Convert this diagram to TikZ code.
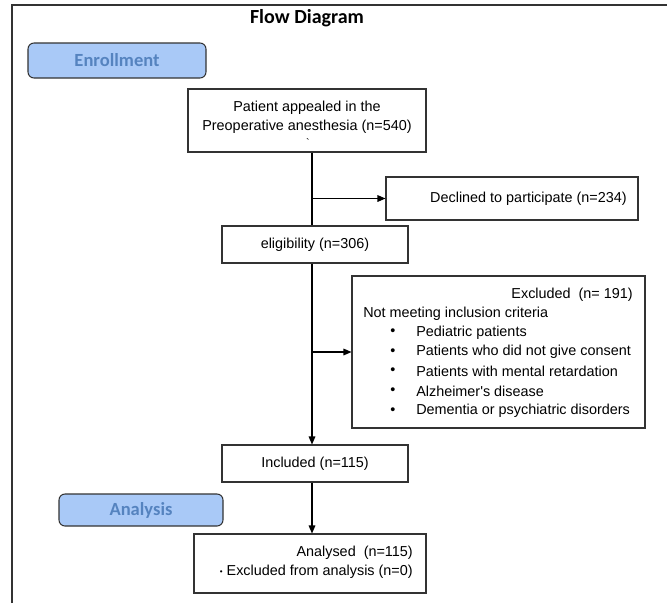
\documentclass[tikz,border=0pt]{standalone}
\usepackage{fontspec}
\setmainfont{Liberation Sans}
\newfontfamily\calibri{Carlito}
\newfontfamily\rawarial{Liberation Sans}
\usetikzlibrary{arrows.meta}
\definecolor{phasefill}{HTML}{A9C9F7}
\definecolor{phasetext}{HTML}{5583BF}
\definecolor{edgegray}{HTML}{333333}
\begin{document}
\begin{tikzpicture}[x=0.75pt,y=-0.75pt,
  box/.style={draw=edgegray, line width=0.8pt, inner sep=0pt, font=\fontsize{10.8}{13}\selectfont},
  phase/.style={draw=edgegray, line width=0.8pt, rounded corners=4.5pt, fill=phasefill,
    font=\calibri\bfseries\fontsize{13.9}{16}\selectfont, text=phasetext, inner sep=0pt},
  txt/.style={font=\fontsize{10.8}{13}\selectfont, inner sep=0pt},
  arr/.style={draw=black, line width=0.8pt, -{Triangle[length=6pt,width=5pt]}},
  ln/.style={draw=black, line width=0.8pt}]
\useasboundingbox (0,0) rectangle (667,603);
% frame
\draw[line width=1.1pt, draw=edgegray] (12,603) -- (12,5) -- (667,5);
% title
\node[font=\calibri\bfseries\fontsize{15}{18}\selectfont, inner sep=0pt] (title) at (307,18) {Flow Diagram};
% phases
\node[phase, minimum width=133.5pt, minimum height=26.25pt] (enroll) at (117,60.5) {Enrollment};
\node[phase, minimum width=123pt, minimum height=24pt] (analysis) at (141,510) {Analysis};
% boxes
\node[box, minimum width=178.5pt, minimum height=47.25pt] (box1) at (307,120.5) {};
\node[txt] (box1a) at (307,108) {Patient appealed in the};
\node[txt] (box1b) at (307,127) {Preoperative anesthesia (n=540)};
\node[txt, font=\rawarial\fontsize{8}{9}\selectfont] (box1c) at (308,143) {`};
\node[box, minimum width=189pt, minimum height=32.25pt] (declined) at (512,198.5) {};
\node[txt, anchor=east] (declinedtxt) at (627,198.5) {Declined to participate (n=234)};
\node[box, minimum width=139.5pt, minimum height=27.75pt] (elig) at (315,244.5) {eligibility (n=306)};
\node[box, minimum width=219.75pt, minimum height=114pt] (excl) at (498.5,352) {};
\node[txt, anchor=east] (excl0) at (633,295) {Excluded\ \ (n= 191)};
\node[txt, anchor=west] (excl1) at (363,313.5) {Not meeting inclusion criteria};
\foreach \i/\yy/\t in {2/332.5/Pediatric patients,3/352/Patients who did not give consent,4/371.5/Patients with mental retardation,5/391/{Alzheimer{\rawarial'}s disease},6/411/Dementia or psychiatric disorders}{
  \node[txt] (bul\i) at (393,\yy) {•};
  \node[txt, anchor=west] (excl\i) at (416,\yy) {\t};
}
\node[box, minimum width=139.5pt, minimum height=27.75pt] (incl) at (315,463.5) {Included (n=115)};
\node[box, minimum width=174pt, minimum height=44.25pt] (anal) at (310,563.5) {};
\node[txt, anchor=east] (anal1) at (413,553) {Analysed\ \ (n=115)};
\node[txt, anchor=east] (anal2) at (413,571.5) {{\fontsize{6}{6}\selectfont\raisebox{0.5pt}{•}}\ Excluded from analysis (n=0)};
% connectors
\coordinate (spine) at (312,0);
\draw[ln] (box1.south -| spine) -- (elig.north -| spine);
\draw[arr] (spine |- declined.west) -- (declined.west);
\draw[arr] (elig.south -| spine) -- (incl.north -| spine);
\draw[arr] (spine |- excl.west) -- (excl.west);
\draw[arr] (incl.south -| spine) -- (anal.north -| spine);
\end{tikzpicture}
\end{document}
